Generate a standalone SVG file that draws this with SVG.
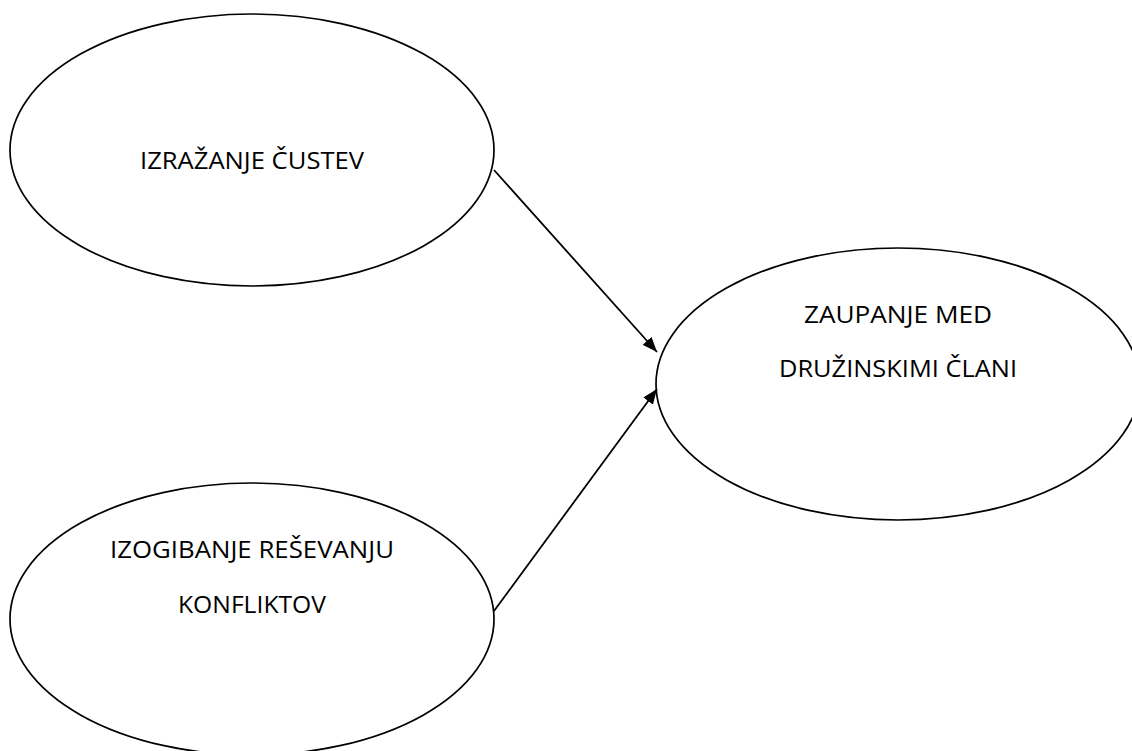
<svg xmlns="http://www.w3.org/2000/svg" width="1132" height="751" viewBox="0 0 1132 751">
<style>
.node ellipse{fill:#fff;stroke:#000;stroke-width:1.7}
.node text{font-family:"Open Sans","Noto Sans","Liberation Sans",sans-serif;font-size:24.5px;fill:#000;text-anchor:middle}
.conn line{stroke:#000;stroke-width:1.8}
</style>
<defs>
<marker id="ah" viewBox="0 0 15 12" refX="15" refY="6" markerWidth="15" markerHeight="12" markerUnits="userSpaceOnUse" orient="auto">
<path d="M0,0 L15,6 L0,12 z" fill="#000"/>
</marker>
</defs>
<rect width="1132" height="751" fill="#fff"/>
<g id="node-izrazanje" class="node">
<ellipse cx="252" cy="150" rx="242" ry="136"/>
<text x="252" y="169" textLength="224" lengthAdjust="spacingAndGlyphs">IZRAŽANJE ČUSTEV</text>
</g>
<g id="node-izogibanje" class="node">
<ellipse cx="252" cy="619" rx="242" ry="136"/>
<text x="252" y="558" textLength="284" lengthAdjust="spacingAndGlyphs">IZOGIBANJE REŠEVANJU</text>
<text x="252" y="613" textLength="148" lengthAdjust="spacingAndGlyphs">KONFLIKTOV</text>
</g>
<g id="node-zaupanje" class="node">
<ellipse cx="898" cy="384" rx="242" ry="136"/>
<text x="898" y="323" textLength="188" lengthAdjust="spacingAndGlyphs">ZAUPANJE MED</text>
<text x="898" y="377" textLength="238" lengthAdjust="spacingAndGlyphs">DRUŽINSKIMI ČLANI</text>
</g>
<g id="connectors" class="conn">
<line x1="494" y1="170" x2="657" y2="352" marker-end="url(#ah)"/>
<line x1="494" y1="611" x2="657" y2="389" marker-end="url(#ah)"/>
</g>
</svg>
